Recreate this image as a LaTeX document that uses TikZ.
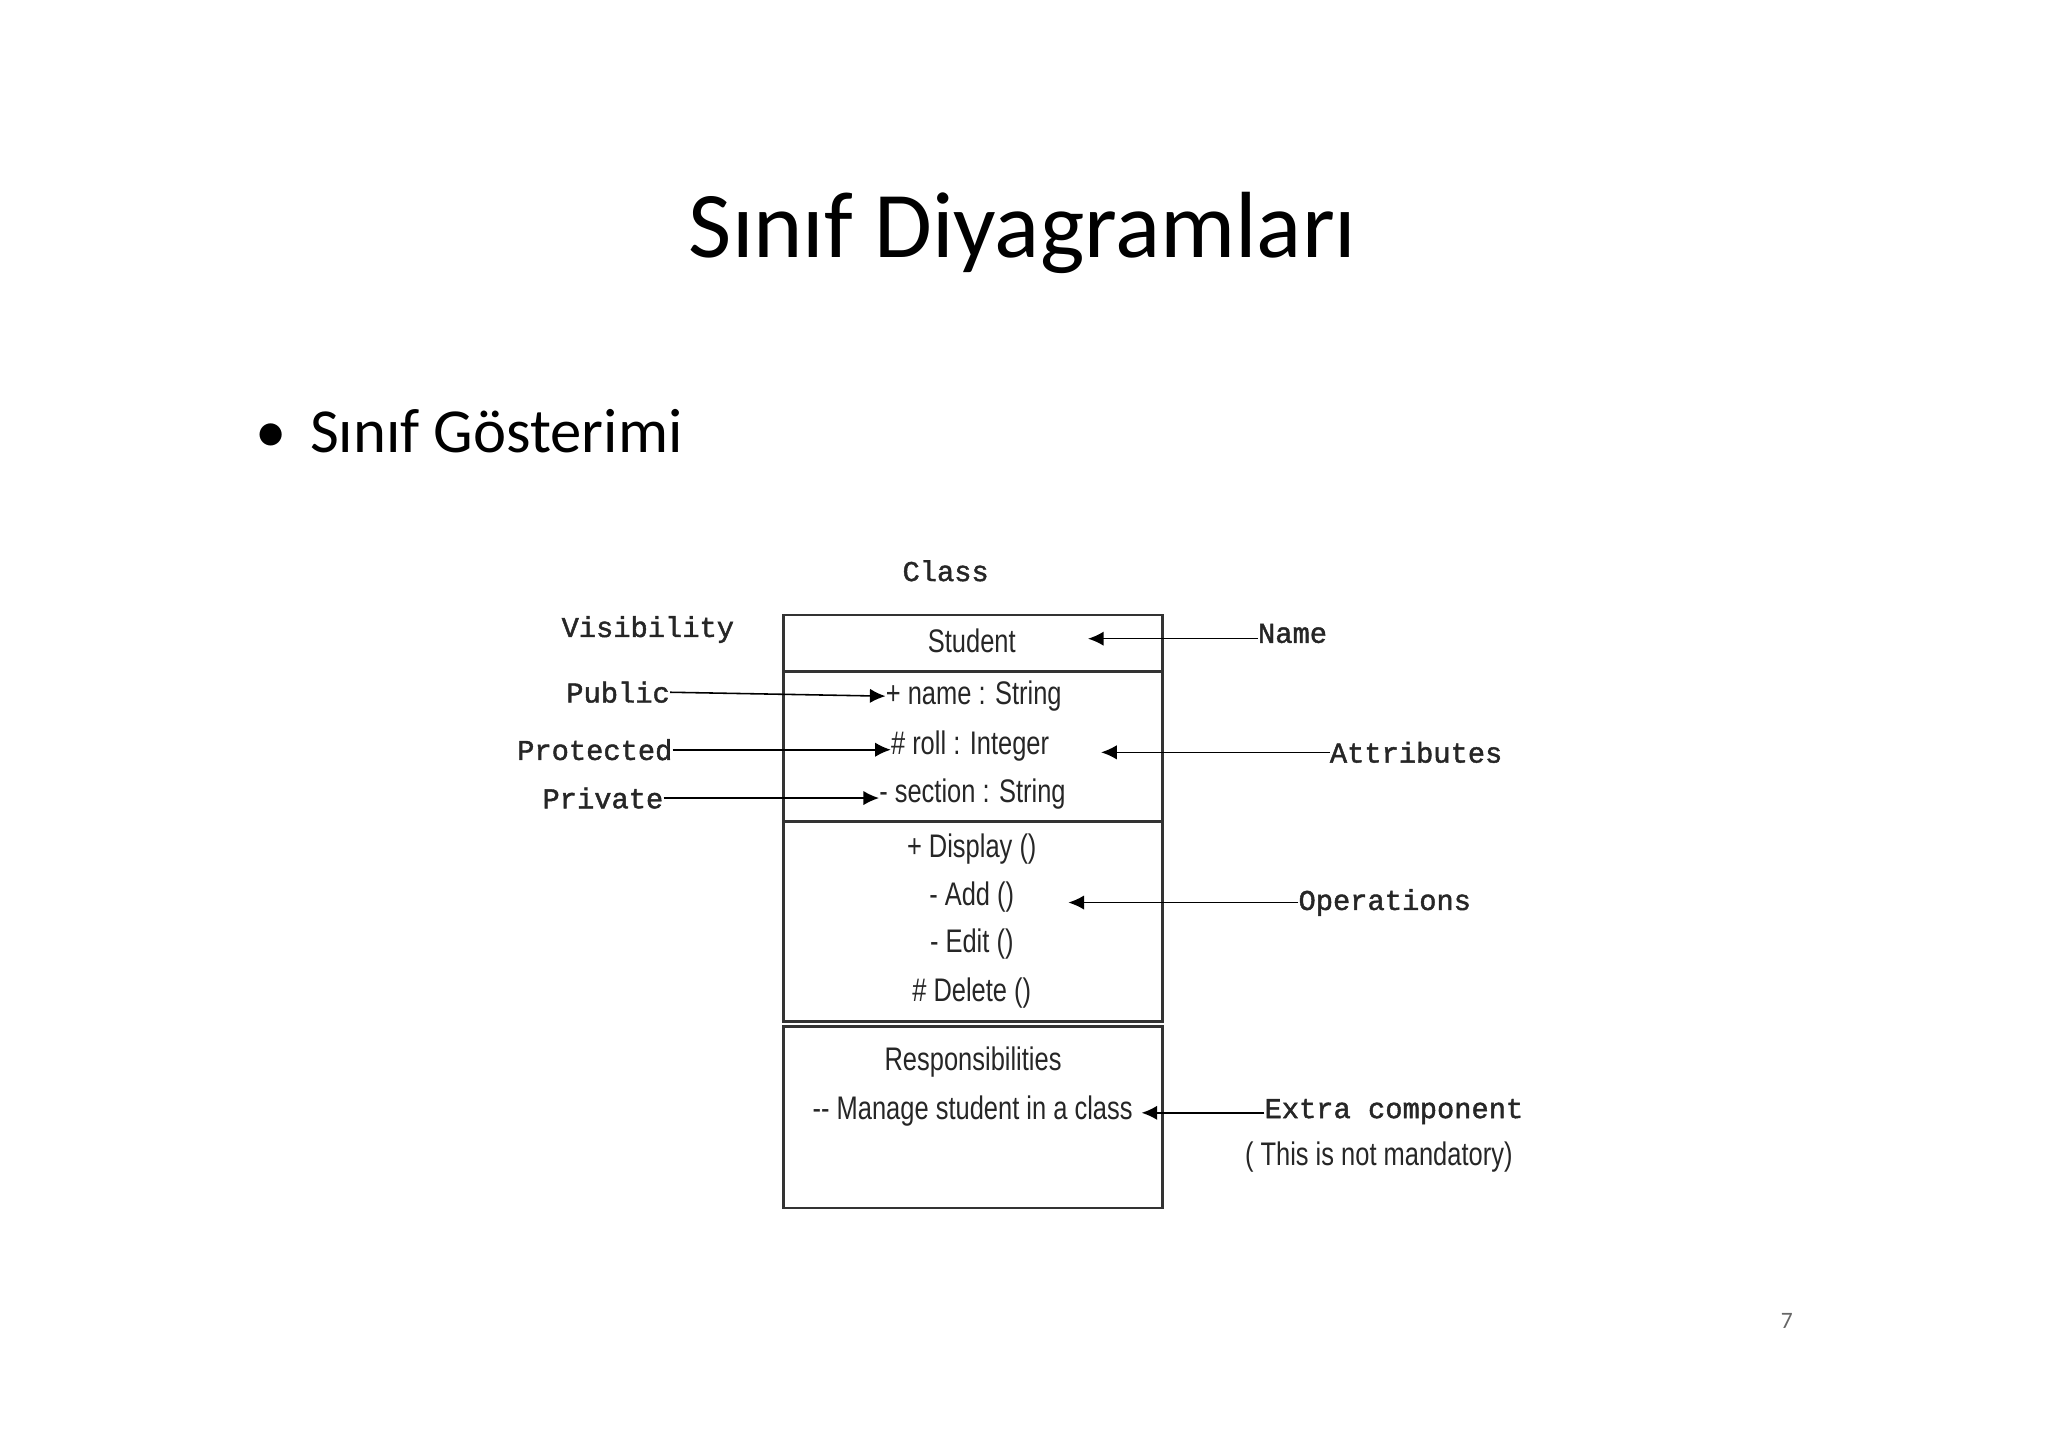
\documentclass[tikz,border=0pt]{standalone}
\usepackage{fontspec}
\setmainfont{Carlito}
\newfontfamily\monob[FakeBold=1.5]{Liberation Mono}
\newfontfamily\narrow[FakeStretch=0.78]{Liberation Sans}
\usetikzlibrary{arrows.meta}
\begin{document}
\begin{tikzpicture}[x=1pt,y=-1pt,
  lbl/.style={font=\monob\fontsize{22}{24}\selectfont,inner sep=0pt,text=black!85},
  itm/.style={font=\narrow\fontsize{25}{28}\selectfont,inner sep=0pt,text=black!85},
  arr/.style={-{Latex[length=12pt,width=11pt]},line width=1.2pt},
  comp/.style={draw=black!80,line width=2pt}]
\useasboundingbox (0,0) rectangle (1568,1108);
\node[font=\fontsize{72}{80}\selectfont] (title) at (783,178) {Sınıf Diyagramları};
\node[font=\fontsize{48}{56}\selectfont,anchor=west] (bul) at (192,330) {•\hspace{18pt}Sınıf Gösterimi};
\node[font=\fontsize{18}{20}\selectfont,text=black!60] (pg) at (1368,1011) {7};
% compartments
\draw[comp] (600,471) rectangle (890,514);
\draw[comp] (600,514) rectangle (890,629);
\draw[comp] (600,629) rectangle (890,782);
\draw[comp] (600,786) rectangle (890,925);
\node[lbl] (cls) at (724,437) {Class};
\node[lbl] (vis) at (496,482) {Visibility};
\node[itm] (stu) at (744,491) {Student};
\node[itm,anchor=west] (a1) at (678,533) {+ name : String};
\node[itm,anchor=west] (a2) at (682,571) {\# roll : Integer};
\node[itm,anchor=west] (a3) at (673,608) {- section : String};
\node[itm] (o1) at (744,650) {+ Display ()};
\node[itm] (o2) at (744,687) {- Add ()};
\node[itm] (o3) at (744,723) {- Edit ()};
\node[itm] (o4) at (744,760) {\# Delete ()};
\node[itm] (r1) at (745,813) {Responsibilities};
\node[itm,anchor=west] (r2) at (622,851) {-- Manage student in a class};
\node[lbl,anchor=east] (pub) at (513,530) {Public};
\node[lbl,anchor=east] (pro) at (515,574) {Protected};
\node[lbl,anchor=east] (pri) at (508,611) {Private};
\node[lbl,anchor=west] (nam) at (963,485) {Name};
\node[lbl,anchor=west] (att) at (1018,576) {Attributes};
\node[lbl,anchor=west] (ops) at (994,691) {Operations};
\node[lbl,anchor=west] (ext) at (968,851) {Extra component};
\node[itm,anchor=west] (ext2) at (953,886) {( This is not mandatory)};
\coordinate (tN) at (833,489);
\coordinate (tA) at (843,576);
\coordinate (tO) at (818,691);
\coordinate (tE) at (874,852);
\draw[arr] (nam.west|-tN) -- (tN);
\draw[arr] (att.west) -- (tA);
\draw[arr] (ops.west) -- (tO);
\draw[arr] (ext.west|-tE) -- (tE);
\draw[arr] (pub.east) -- (a1.west);
\draw[arr] (pro.east) -- (a2.west|-pro.east);
\draw[arr] (pri.east) -- (a3.west|-pri.east);
\end{tikzpicture}
\end{document}
